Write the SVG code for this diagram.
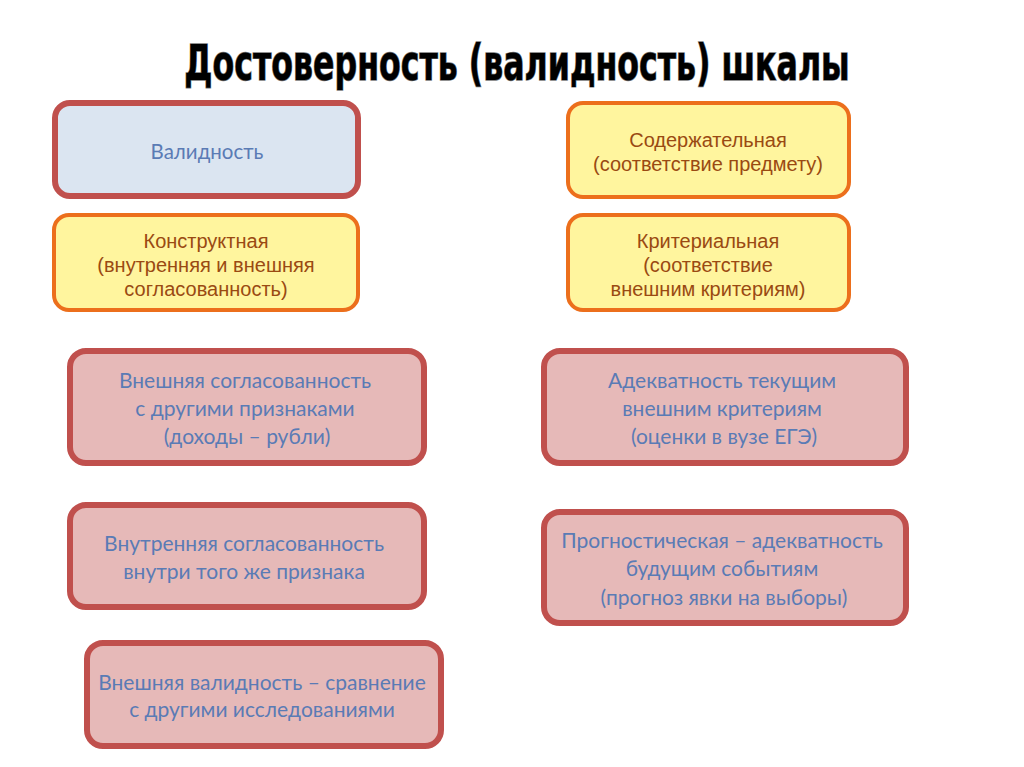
<svg xmlns="http://www.w3.org/2000/svg" width="1024" height="767" viewBox="0 0 1024 767">
<style>
.bg{fill:#ffffff}
.title{font-family:"DejaVu Sans Condensed","DejaVu Sans",sans-serif;font-weight:bold;font-size:50px;fill:#000;stroke:#777;stroke-width:1.4px;paint-order:stroke}
.blue{fill:#dbe5f1;stroke:#c0504d;stroke-width:6}
.yel{fill:#fff59e;stroke:#ec6f1c;stroke-width:4}
.pink{fill:#e6b9b8;stroke:#c0504d;stroke-width:6}
.tb{font-family:"Lato","Open Sans",sans-serif;font-size:21px;fill:#5a7bb5;text-anchor:middle}
.ty{font-family:"Liberation Sans",Arial,sans-serif;font-size:20px;fill:#9a4a12;text-anchor:middle}
</style>
<rect class="bg" x="0" y="0" width="1024" height="767"/>
<g transform="translate(517,80) scale(0.72,1)"><text class="title" x="0" y="0" text-anchor="middle" textLength="924" lengthAdjust="spacingAndGlyphs">Достоверность (валидность) шкалы</text></g>
<g id="connectors"></g>
<g id="n1"><rect class="blue" x="55" y="103" width="303" height="93" rx="15"/><text class="tb" x="207" y="159" style="font-size:20.5px">Валидность</text></g>
<g id="n2"><rect class="yel" x="54" y="215" width="304" height="95" rx="15"/><text class="ty" x="206" y="248">Конструктная</text><text class="ty" x="206" y="272">(внутренняя и внешняя</text><text class="ty" x="206" y="296">согласованность)</text></g>
<g id="n3"><rect class="yel" x="568" y="103" width="281" height="94" rx="15"/><text class="ty" x="708" y="147">Содержательная</text><text class="ty" x="708" y="171">(соответствие предмету)</text></g>
<g id="n4"><rect class="yel" x="568" y="215" width="281" height="95" rx="15"/><text class="ty" x="708" y="248">Критериальная</text><text class="ty" x="708" y="272">(соответствие</text><text class="ty" x="708" y="296">внешним критериям)</text></g>
<g id="n5"><rect class="pink" x="70" y="351" width="354" height="112" rx="16"/><text class="tb" x="245" y="388">Внешняя согласованность</text><text class="tb" x="245" y="416">с другими признаками</text><text class="tb" x="247" y="444">(доходы – рубли)</text></g>
<g id="n6"><rect class="pink" x="70" y="505" width="354" height="102" rx="16"/><text class="tb" x="244" y="551">Внутренняя согласованность</text><text class="tb" x="244" y="579">внутри того же признака</text></g>
<g id="n7"><rect class="pink" x="87" y="643" width="354" height="103" rx="16"/><text class="tb" x="262" y="690">Внешняя валидность – сравнение</text><text class="tb" x="262" y="717">с другими исследованиями</text></g>
<g id="n8"><rect class="pink" x="544" y="351" width="362" height="112" rx="16"/><text class="tb" x="722" y="388">Адекватность текущим</text><text class="tb" x="722" y="416">внешним критериям</text><text class="tb" x="724" y="444">(оценки в вузе ЕГЭ)</text></g>
<g id="n9"><rect class="pink" x="544" y="512" width="362" height="111" rx="16"/><text class="tb" x="722" y="548">Прогностическая – адекватность</text><text class="tb" x="722" y="576">будущим  событиям</text><text class="tb" x="724" y="605">(прогноз явки на выборы)</text></g>
</svg>
